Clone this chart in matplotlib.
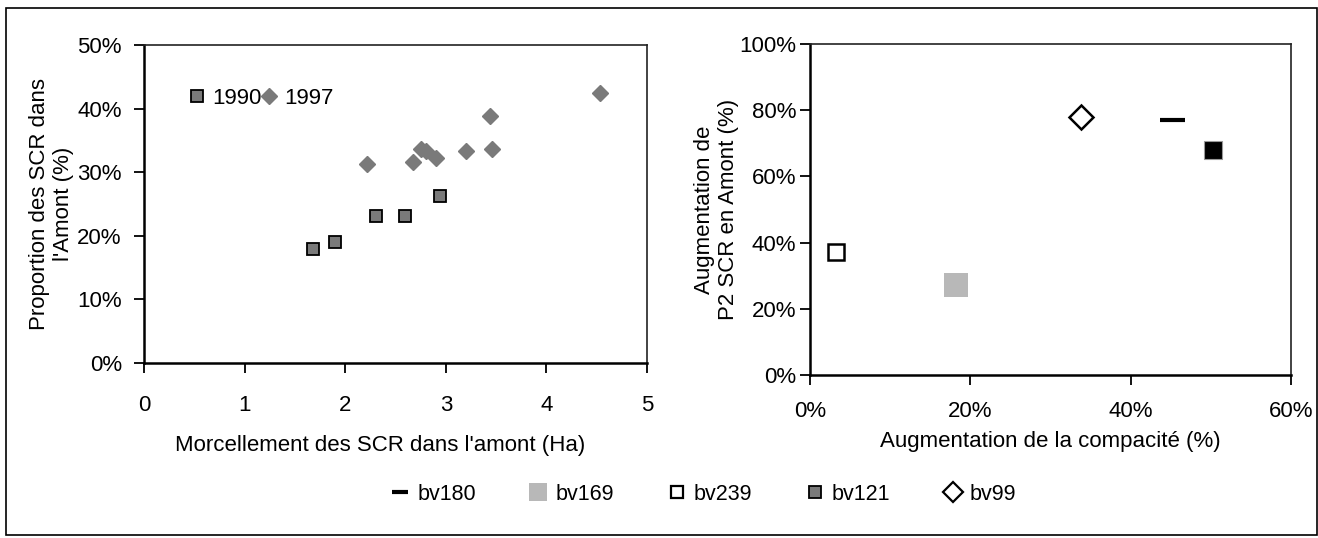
import matplotlib
matplotlib.use("Agg")
import matplotlib.pyplot as plt
from matplotlib.lines import Line2D
from matplotlib.patches import Rectangle
from matplotlib.ticker import PercentFormatter, MultipleLocator

plt.rcParams['font.family'] = ['Liberation Sans', 'DejaVu Sans']
plt.rcParams['font.size'] = 16

# left chart: fragmentation vs proportion (two years)
x_1990 = [1.68, 1.90, 2.31, 2.59, 2.94]
y_1990 = [17.9, 19.0, 23.1, 23.1, 26.3]
x_1997 = [2.22, 2.67, 2.75, 2.80, 2.90, 3.20, 3.44, 3.46, 4.53]
y_1997 = [31.3, 31.6, 33.6, 33.3, 32.2, 33.3, 38.9, 33.6, 42.4]

# right chart: one point per watershed
bassins = ['bv180', 'bv169', 'bv239', 'bv121', 'bv99']
compacite = [45.2, 18.2, 3.2, 50.3, 33.8]
p2_amont = [77.1, 27.2, 37.1, 68.0, 77.9]

fig = plt.figure(figsize=(13.18, 5.38), dpi=100)
ax1 = fig.add_axes([0.1093, 0.3253, 0.3816, 0.591])
ax2 = fig.add_axes([0.6146, 0.303, 0.3649, 0.6152])

# frame around the whole figure
fig.patches.append(Rectangle((5.5 / 1318, 3.5 / 538), 1311 / 1318, 527 / 538,
                             transform=fig.transFigure, fill=False,
                             edgecolor='black', lw=1.2))

ax1.plot(x_1990, y_1990, ls='none', marker='s', ms=9, mfc='#7a7a7a',
         mec='black', mew=1.3, label='1990')
ax1.plot(x_1997, y_1997, ls='none', marker='D', ms=8, mfc='#7a7a7a',
         mec='#7a7a7a', label='1997')
ax1.set_xlim(0, 5)
ax1.set_ylim(0, 50)
ax1.xaxis.set_major_locator(MultipleLocator(1))
ax1.yaxis.set_major_locator(MultipleLocator(10))
ax1.yaxis.set_major_formatter(PercentFormatter(100, decimals=0))
ax1.set_xlabel("Morcellement des SCR dans l'amont (Ha)")
ax1.xaxis.set_label_coords(0.47, -0.225)
ax1.set_ylabel("Proportion des SCR dans\nl'Amont (%)", labelpad=2)
ax1.tick_params(axis='y', direction='out', length=7, width=1.3, pad=9)
ax1.tick_params(axis='x', direction='out', length=7, width=1.3, pad=16)
ax1.legend(loc='center left', bbox_to_anchor=(0.07, 0.833), ncol=2,
           frameon=False, handlelength=0.8, handletextpad=0.3,
           columnspacing=-0.1, borderaxespad=0, fontsize=16)

styles = {
    'bv180': dict(marker='_', ms=18, mew=3, mfc='black', mec='black'),
    'bv169': dict(marker='s', ms=17, mew=0, mfc='#b8b8b8', mec='#b8b8b8'),
    'bv239': dict(marker='s', ms=12, mew=1.8, mfc='white', mec='black'),
    'bv121': dict(marker='s', ms=12.5, mew=0.8, mfc='black', mec='#999999'),
    'bv99': dict(marker='D', ms=12.5, mew=1.8, mfc='white', mec='black'),
}
for name, cx, cy in zip(bassins, compacite, p2_amont):
    ax2.plot([cx], [cy], ls='none', label=name, **styles[name])

ax2.set_xlim(0, 60)
ax2.set_ylim(0, 100)
ax2.xaxis.set_major_locator(MultipleLocator(20))
ax2.yaxis.set_major_locator(MultipleLocator(20))
ax2.xaxis.set_major_formatter(PercentFormatter(100, decimals=0))
ax2.yaxis.set_major_formatter(PercentFormatter(100, decimals=0))
ax2.set_xlabel("Augmentation de la compacité (%)", labelpad=6)
ax2.set_ylabel("Augmentation de\nP2 SCR en Amont (%)", labelpad=0)
ax2.tick_params(axis='y', direction='out', length=7, width=1.3, pad=3)
ax2.tick_params(axis='x', direction='out', length=7, width=1.3, pad=12)

for ax in (ax1, ax2):
    ax.spines['left'].set_linewidth(1.8)
    ax.spines['bottom'].set_linewidth(1.8)
    ax.spines['top'].set_linewidth(1.2)
    ax.spines['right'].set_linewidth(1.2)
    ax.spines['top'].set_color('#222222')
    ax.spines['right'].set_color('#222222')

# bottom legend uses the chart's own legend symbols
leg_styles = {
    'bv180': dict(marker='_', ms=11, mew=3, mfc='black', mec='black'),
    'bv169': dict(marker='s', ms=13, mew=0, mfc='#b8b8b8', mec='#b8b8b8'),
    'bv239': dict(marker='s', ms=8, mew=1.6, mfc='white', mec='black'),
    'bv121': dict(marker='s', ms=8, mew=1.3, mfc='#7a7a7a', mec='black'),
    'bv99': dict(marker='D', ms=10, mew=1.6, mfc='white', mec='black'),
}
handles = [Line2D([], [], ls='none', **leg_styles[n]) for n in bassins]
fig.legend(handles, bassins, loc='center', bbox_to_anchor=(704 / 1318, 1 - 494 / 538),
           ncol=5, frameon=False, handlelength=0.8, handletextpad=0.4,
           columnspacing=2.5, fontsize=15.5)

fig.savefig('out.png', dpi=100)
